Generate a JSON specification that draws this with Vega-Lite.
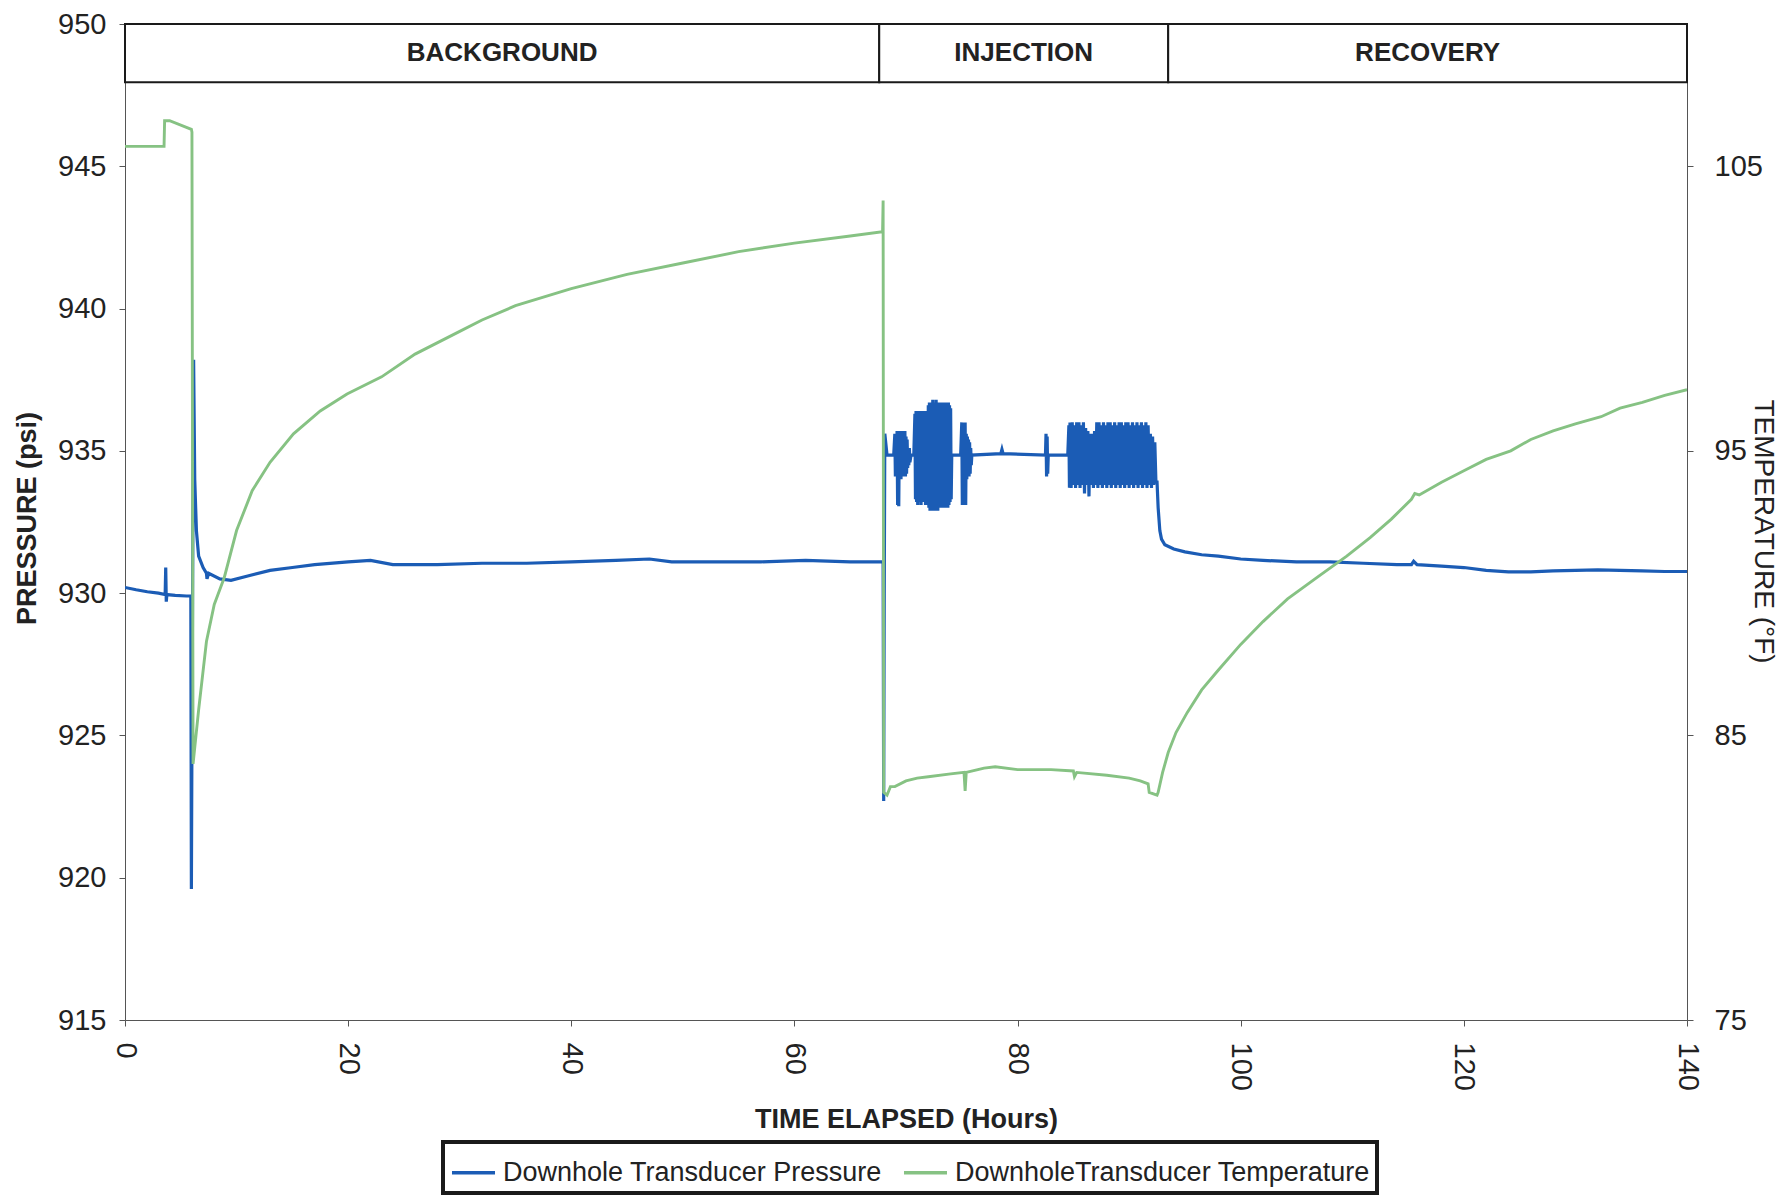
{
  "$schema": "https://vega.github.io/schema/vega-lite/v6.json",
  "width": 1562,
  "height": 996,
  "autosize": {"type": "none"},
  "padding": {"left": 125, "top": 24, "right": 95, "bottom": 183},
  "background": "white",
  "config": {
    "view": {"stroke": null},
    "font": "Liberation Sans",
    "axis": {
      "labelFont": "Liberation Sans",
      "titleFont": "Liberation Sans",
      "labelColor": "#222222",
      "titleColor": "#222222",
      "domainColor": "#555555",
      "tickColor": "#555555",
      "grid": false,
      "labelFontSize": 29,
      "titleFontSize": 27,
      "titleFontWeight": "bold"
    },
    "axisX": {"labelAngle": 90, "tickSize": 6, "labelPadding": 16, "titleY": 99, "titleBaseline": "middle"},
    "legend": {"strokeWidth": 4}
  },
  "datasets": {
    "phases": [
      {"start": 0, "end": 67.6, "label": "BACKGROUND"},
      {"start": 67.6, "end": 93.5, "label": "INJECTION"},
      {"start": 93.5, "end": 140, "label": "RECOVERY"}
    ],
    "pressure": [
      {"t": 0, "p": 930.2}, {"t": 1, "p": 930.12}, {"t": 2, "p": 930.05}, {"t": 3, "p": 930.0}, {"t": 3.6, "p": 929.95},
      {"t": 3.65, "p": 930.9}, {"t": 3.7, "p": 929.7}, {"t": 3.75, "p": 929.95}, {"t": 4.5, "p": 929.92}, {"t": 5.5, "p": 929.9},
      {"t": 5.9, "p": 929.9}, {"t": 5.95, "p": 919.6}, {"t": 6.0, "p": 925.0}, {"t": 6.15, "p": 938.2}, {"t": 6.25, "p": 934.0},
      {"t": 6.4, "p": 932.2}, {"t": 6.6, "p": 931.3}, {"t": 7.0, "p": 930.9}, {"t": 7.3, "p": 930.7}, {"t": 7.35, "p": 930.5},
      {"t": 7.5, "p": 930.7}, {"t": 8.5, "p": 930.5}, {"t": 9.5, "p": 930.45}, {"t": 11, "p": 930.6}, {"t": 13, "p": 930.8},
      {"t": 15, "p": 930.9}, {"t": 17, "p": 931.0}, {"t": 20, "p": 931.1}, {"t": 22, "p": 931.15}, {"t": 24, "p": 931.0},
      {"t": 28, "p": 931.0}, {"t": 32, "p": 931.05}, {"t": 36, "p": 931.05}, {"t": 40, "p": 931.1}, {"t": 44, "p": 931.15},
      {"t": 47, "p": 931.2}, {"t": 49, "p": 931.1}, {"t": 53, "p": 931.1}, {"t": 57, "p": 931.1}, {"t": 61, "p": 931.15},
      {"t": 65, "p": 931.1}, {"t": 67.9, "p": 931.1}, {"t": 67.95, "p": 931.1}, {"t": 68.0, "p": 922.7}, {"t": 68.05, "p": 930.0},
      {"t": 68.1, "p": 935.6}, {"t": 68.3, "p": 934.85}, {"t": 68.9, "p": 934.85},
      {"t": 69.0, "p": 935.6}, {"t": 69.05, "p": 934.1}, {"t": 69.1, "p": 935.6}, {"t": 69.15, "p": 934.1}, {"t": 69.2, "p": 935.7},
      {"t": 69.25, "p": 933.1}, {"t": 69.3, "p": 935.7}, {"t": 69.35, "p": 933.05}, {"t": 69.4, "p": 935.6}, {"t": 69.45, "p": 934.1},
      {"t": 69.5, "p": 935.7}, {"t": 69.55, "p": 934.0}, {"t": 69.6, "p": 935.6}, {"t": 69.65, "p": 934.1}, {"t": 69.7, "p": 935.7},
      {"t": 69.75, "p": 934.1}, {"t": 69.8, "p": 935.6}, {"t": 69.85, "p": 934.1}, {"t": 69.9, "p": 935.7}, {"t": 69.95, "p": 934.1},
      {"t": 70.0, "p": 935.5}, {"t": 70.05, "p": 934.2}, {"t": 70.1, "p": 935.4}, {"t": 70.15, "p": 934.4}, {"t": 70.2, "p": 935.1},
      {"t": 70.25, "p": 934.5}, {"t": 70.3, "p": 935.1}, {"t": 70.35, "p": 934.6}, {"t": 70.45, "p": 934.85}, {"t": 70.7, "p": 934.85},
      {"t": 70.8, "p": 936.3}, {"t": 70.85, "p": 933.3}, {"t": 70.9, "p": 936.4}, {"t": 70.95, "p": 933.2}, {"t": 71.0, "p": 936.4},
      {"t": 71.05, "p": 933.1}, {"t": 71.1, "p": 936.3}, {"t": 71.15, "p": 933.3}, {"t": 71.2, "p": 936.4}, {"t": 71.25, "p": 933.2},
      {"t": 71.3, "p": 936.3}, {"t": 71.35, "p": 933.1}, {"t": 71.4, "p": 936.4}, {"t": 71.45, "p": 933.3}, {"t": 71.5, "p": 936.4},
      {"t": 71.55, "p": 933.2}, {"t": 71.6, "p": 936.3}, {"t": 71.65, "p": 933.3}, {"t": 71.7, "p": 936.4}, {"t": 71.75, "p": 933.1},
      {"t": 71.8, "p": 936.3}, {"t": 71.85, "p": 933.2}, {"t": 71.9, "p": 936.4}, {"t": 71.95, "p": 933.1}, {"t": 72.0, "p": 936.6},
      {"t": 72.05, "p": 933.0}, {"t": 72.1, "p": 936.7}, {"t": 72.15, "p": 932.9}, {"t": 72.2, "p": 936.7}, {"t": 72.25, "p": 932.9},
      {"t": 72.3, "p": 936.7}, {"t": 72.35, "p": 933.0}, {"t": 72.4, "p": 936.8}, {"t": 72.45, "p": 932.9}, {"t": 72.5, "p": 936.7},
      {"t": 72.55, "p": 932.9}, {"t": 72.6, "p": 936.7}, {"t": 72.65, "p": 933.0}, {"t": 72.7, "p": 936.8}, {"t": 72.75, "p": 932.9},
      {"t": 72.8, "p": 936.7}, {"t": 72.85, "p": 932.9}, {"t": 72.9, "p": 936.7}, {"t": 72.95, "p": 933.0}, {"t": 73.0, "p": 936.7},
      {"t": 73.05, "p": 933.0}, {"t": 73.1, "p": 936.7}, {"t": 73.15, "p": 933.0}, {"t": 73.2, "p": 936.6}, {"t": 73.25, "p": 933.1},
      {"t": 73.3, "p": 936.7}, {"t": 73.35, "p": 933.0}, {"t": 73.4, "p": 936.7}, {"t": 73.45, "p": 933.1}, {"t": 73.5, "p": 936.7},
      {"t": 73.55, "p": 933.0}, {"t": 73.6, "p": 936.6}, {"t": 73.65, "p": 933.1}, {"t": 73.7, "p": 936.7}, {"t": 73.75, "p": 933.0},
      {"t": 73.8, "p": 936.7}, {"t": 73.85, "p": 933.1}, {"t": 73.9, "p": 936.6}, {"t": 73.95, "p": 933.2}, {"t": 74.0, "p": 936.5},
      {"t": 74.05, "p": 933.3}, {"t": 74.1, "p": 934.85}, {"t": 74.9, "p": 934.85},
      {"t": 75.0, "p": 936.0}, {"t": 75.05, "p": 933.1}, {"t": 75.1, "p": 936.0}, {"t": 75.15, "p": 933.1}, {"t": 75.2, "p": 935.9},
      {"t": 75.25, "p": 933.2}, {"t": 75.3, "p": 936.0}, {"t": 75.35, "p": 933.1}, {"t": 75.4, "p": 935.6}, {"t": 75.45, "p": 934.0},
      {"t": 75.5, "p": 935.5}, {"t": 75.55, "p": 934.1}, {"t": 75.6, "p": 935.4}, {"t": 75.65, "p": 934.1}, {"t": 75.7, "p": 935.3},
      {"t": 75.75, "p": 934.2}, {"t": 75.8, "p": 935.1}, {"t": 75.85, "p": 934.5}, {"t": 75.9, "p": 934.85},
      {"t": 78.5, "p": 934.9}, {"t": 78.6, "p": 935.05}, {"t": 78.7, "p": 934.9}, {"t": 82.5, "p": 934.85}, {"t": 82.55, "p": 935.6},
      {"t": 82.6, "p": 934.1}, {"t": 82.65, "p": 935.5}, {"t": 82.7, "p": 934.2}, {"t": 82.75, "p": 934.85}, {"t": 84.5, "p": 934.85},
      {"t": 84.6, "p": 935.9}, {"t": 84.65, "p": 933.7}, {"t": 84.7, "p": 936.0}, {"t": 84.8, "p": 933.7}, {"t": 84.9, "p": 936.0},
      {"t": 85.0, "p": 933.8}, {"t": 85.1, "p": 935.9}, {"t": 85.2, "p": 933.7}, {"t": 85.3, "p": 936.0}, {"t": 85.4, "p": 933.8},
      {"t": 85.5, "p": 936.0}, {"t": 85.6, "p": 933.7}, {"t": 85.7, "p": 935.9}, {"t": 85.8, "p": 933.8}, {"t": 85.9, "p": 936.0},
      {"t": 86.0, "p": 933.5}, {"t": 86.1, "p": 935.8}, {"t": 86.2, "p": 933.8}, {"t": 86.3, "p": 935.7}, {"t": 86.4, "p": 933.4},
      {"t": 86.5, "p": 935.6}, {"t": 86.6, "p": 933.8}, {"t": 86.7, "p": 935.6}, {"t": 86.8, "p": 933.7}, {"t": 86.9, "p": 935.7},
      {"t": 87.0, "p": 933.8}, {"t": 87.1, "p": 936.0}, {"t": 87.2, "p": 933.7}, {"t": 87.3, "p": 936.0}, {"t": 87.4, "p": 933.8},
      {"t": 87.5, "p": 935.9}, {"t": 87.6, "p": 933.7}, {"t": 87.7, "p": 936.0}, {"t": 87.8, "p": 933.8}, {"t": 87.9, "p": 935.9},
      {"t": 88.0, "p": 933.7}, {"t": 88.1, "p": 936.0}, {"t": 88.2, "p": 933.8}, {"t": 88.3, "p": 936.0}, {"t": 88.4, "p": 933.7},
      {"t": 88.5, "p": 935.9}, {"t": 88.6, "p": 933.8}, {"t": 88.7, "p": 936.0}, {"t": 88.8, "p": 933.7}, {"t": 88.9, "p": 935.9},
      {"t": 89.0, "p": 933.8}, {"t": 89.1, "p": 936.0}, {"t": 89.2, "p": 933.7}, {"t": 89.3, "p": 936.0}, {"t": 89.4, "p": 933.8},
      {"t": 89.5, "p": 935.9}, {"t": 89.6, "p": 933.7}, {"t": 89.7, "p": 936.0}, {"t": 89.8, "p": 933.8}, {"t": 89.9, "p": 936.0},
      {"t": 90.0, "p": 933.7}, {"t": 90.1, "p": 935.9}, {"t": 90.2, "p": 933.8}, {"t": 90.3, "p": 936.0}, {"t": 90.4, "p": 933.7},
      {"t": 90.5, "p": 935.9}, {"t": 90.6, "p": 933.8}, {"t": 90.7, "p": 936.0}, {"t": 90.8, "p": 933.7}, {"t": 90.9, "p": 935.9},
      {"t": 91.0, "p": 933.8}, {"t": 91.1, "p": 936.0}, {"t": 91.2, "p": 933.7}, {"t": 91.3, "p": 935.9}, {"t": 91.4, "p": 933.8},
      {"t": 91.5, "p": 936.0}, {"t": 91.6, "p": 933.7}, {"t": 91.7, "p": 935.9}, {"t": 91.8, "p": 933.8}, {"t": 91.9, "p": 935.6},
      {"t": 92.0, "p": 933.7}, {"t": 92.1, "p": 935.5}, {"t": 92.2, "p": 933.8}, {"t": 92.3, "p": 935.3}, {"t": 92.4, "p": 933.9},
      {"t": 92.5, "p": 933.9}, {"t": 92.6, "p": 933.0}, {"t": 92.75, "p": 932.2}, {"t": 92.9, "p": 931.9}, {"t": 93.2, "p": 931.7},
      {"t": 94, "p": 931.55}, {"t": 95, "p": 931.45}, {"t": 96.5, "p": 931.35}, {"t": 98, "p": 931.3}, {"t": 100, "p": 931.2},
      {"t": 102, "p": 931.15}, {"t": 105, "p": 931.1}, {"t": 108, "p": 931.1}, {"t": 111, "p": 931.05}, {"t": 114, "p": 931.0},
      {"t": 115.3, "p": 931.0}, {"t": 115.5, "p": 931.12}, {"t": 115.8, "p": 931.0}, {"t": 118, "p": 930.95}, {"t": 120, "p": 930.9},
      {"t": 122, "p": 930.8}, {"t": 124, "p": 930.75}, {"t": 126, "p": 930.75}, {"t": 128, "p": 930.78}, {"t": 130, "p": 930.8},
      {"t": 132, "p": 930.82}, {"t": 134, "p": 930.8}, {"t": 136, "p": 930.78}, {"t": 138, "p": 930.76}, {"t": 140, "p": 930.76}
    ],
    "temperature": [
      {"t": 0, "T": 105.7}, {"t": 3.5, "T": 105.7}, {"t": 3.55, "T": 106.6}, {"t": 4.0, "T": 106.6}, {"t": 5.95, "T": 106.3},
      {"t": 6.0, "T": 106.2}, {"t": 6.1, "T": 84.0}, {"t": 6.6, "T": 85.9}, {"t": 7.3, "T": 88.3}, {"t": 8.0, "T": 89.6},
      {"t": 8.9, "T": 90.55}, {"t": 10, "T": 92.2}, {"t": 11.4, "T": 93.6}, {"t": 13, "T": 94.6}, {"t": 15.1, "T": 95.6},
      {"t": 17.5, "T": 96.4}, {"t": 19.9, "T": 97.0}, {"t": 23, "T": 97.6}, {"t": 26, "T": 98.4}, {"t": 30, "T": 99.2},
      {"t": 32, "T": 99.6}, {"t": 35, "T": 100.1}, {"t": 40, "T": 100.7}, {"t": 45, "T": 101.2}, {"t": 50, "T": 101.6},
      {"t": 55, "T": 102.0}, {"t": 60, "T": 102.3}, {"t": 65, "T": 102.55}, {"t": 67.9, "T": 102.7}, {"t": 67.95, "T": 103.8},
      {"t": 68.0, "T": 83.0}, {"t": 68.3, "T": 82.9}, {"t": 68.6, "T": 83.2}, {"t": 69, "T": 83.2}, {"t": 70, "T": 83.4},
      {"t": 71, "T": 83.5}, {"t": 72, "T": 83.55}, {"t": 74, "T": 83.65}, {"t": 75.2, "T": 83.7}, {"t": 75.3, "T": 83.05},
      {"t": 75.4, "T": 83.7}, {"t": 77, "T": 83.85}, {"t": 78, "T": 83.9}, {"t": 80, "T": 83.8}, {"t": 83, "T": 83.8},
      {"t": 85, "T": 83.75}, {"t": 85.1, "T": 83.55}, {"t": 85.3, "T": 83.7}, {"t": 88, "T": 83.6}, {"t": 90, "T": 83.5},
      {"t": 91, "T": 83.4}, {"t": 91.7, "T": 83.3}, {"t": 91.8, "T": 83.0}, {"t": 92.5, "T": 82.9}, {"t": 92.6, "T": 83.0},
      {"t": 93.0, "T": 83.7}, {"t": 93.5, "T": 84.4}, {"t": 94.2, "T": 85.1}, {"t": 95.2, "T": 85.8}, {"t": 96.5, "T": 86.6},
      {"t": 98, "T": 87.3}, {"t": 100, "T": 88.2}, {"t": 102, "T": 89.0}, {"t": 104.2, "T": 89.8}, {"t": 107, "T": 90.6},
      {"t": 109.5, "T": 91.3}, {"t": 111.6, "T": 91.95}, {"t": 113.5, "T": 92.6}, {"t": 115.3, "T": 93.3}, {"t": 115.6, "T": 93.5},
      {"t": 116, "T": 93.45}, {"t": 118, "T": 93.9}, {"t": 120, "T": 94.3}, {"t": 122, "T": 94.7}, {"t": 124.2, "T": 95.0},
      {"t": 126, "T": 95.4}, {"t": 128, "T": 95.7}, {"t": 130, "T": 95.95}, {"t": 132.3, "T": 96.2}, {"t": 134, "T": 96.5},
      {"t": 136, "T": 96.7}, {"t": 138, "T": 96.95}, {"t": 140, "T": 97.15}
    ]
  },
  "layer": [
    {
      "layer": [
        {
          "data": {"name": "phases"},
          "mark": {"type": "rect", "fill": "white", "stroke": "#1a1a1a", "strokeWidth": 2},
          "encoding": {
            "x": {"field": "start", "type": "quantitative", "title": "TIME ELAPSED (Hours)", "scale": {"domain": [0, 140], "nice": false}, "axis": {"values": [0, 20, 40, 60, 80, 100, 120, 140]}},
            "x2": {"field": "end"},
            "y": {"datum": 950, "type": "quantitative", "title": "PRESSURE (psi)", "scale": {"domain": [915, 950], "nice": false},
              "axis": {"values": [915, 920, 925, 930, 935, 940, 945, 950], "tickSize": 6, "labelPadding": 13, "titleX": -98, "titleY": 494, "titleAngle": 270, "titleBaseline": "middle"}},
            "y2": {"datum": 947.95}
          }
        },
        {
          "data": {"name": "phases"},
          "transform": [{"calculate": "(datum.start + datum.end) / 2", "as": "mid"}],
          "mark": {"type": "text", "font": "Liberation Sans", "fontSize": 26, "fontWeight": "bold", "color": "#222222", "baseline": "middle", "align": "center"},
          "encoding": {
            "x": {"field": "mid", "type": "quantitative", "title": "TIME ELAPSED (Hours)", "scale": {"domain": [0, 140], "nice": false}, "axis": {"values": [0, 20, 40, 60, 80, 100, 120, 140]}},
            "y": {"datum": 948.97, "type": "quantitative", "title": "PRESSURE (psi)", "scale": {"domain": [915, 950], "nice": false},
              "axis": {"values": [915, 920, 925, 930, 935, 940, 945, 950], "tickSize": 6, "labelPadding": 13, "titleX": -98, "titleY": 494, "titleAngle": 270, "titleBaseline": "middle"}},
            "text": {"field": "label"}
          }
        },
        {
          "data": {"name": "pressure"},
          "mark": {"type": "line", "strokeWidth": 3.2, "clip": true},
          "encoding": {
            "x": {"field": "t", "type": "quantitative", "title": "TIME ELAPSED (Hours)", "scale": {"domain": [0, 140], "nice": false}, "axis": {"values": [0, 20, 40, 60, 80, 100, 120, 140]}},
            "y": {"field": "p", "type": "quantitative", "title": "PRESSURE (psi)", "scale": {"domain": [915, 950], "nice": false},
              "axis": {"values": [915, 920, 925, 930, 935, 940, 945, 950], "tickSize": 6, "labelPadding": 13, "titleX": -98, "titleY": 494, "titleAngle": 270, "titleBaseline": "middle"}},
            "color": {"datum": "Downhole Transducer Pressure", "type": "nominal",
              "scale": {"domain": ["Downhole Transducer Pressure", "DownholeTransducer Temperature"], "range": ["#1b5cb5", "#86c283"]},
              "legend": {"orient": "none", "legendX": 318, "legendY": 1118, "direction": "horizontal", "title": null,
                "labelFontSize": 27, "labelFont": "Liberation Sans", "labelColor": "#222222", "labelLimit": 0,
                "symbolType": "stroke", "symbolStrokeWidth": 3.5, "symbolSize": 1850, "strokeColor": "#1a1a1a",
                "padding": 7, "columnPadding": 14, "labelOffset": 6}}
          }
        }
      ]
    },
    {
      "data": {"name": "temperature"},
      "mark": {"type": "line", "strokeWidth": 2.9, "clip": true},
      "encoding": {
        "x": {"field": "t", "type": "quantitative", "title": "TIME ELAPSED (Hours)", "scale": {"domain": [0, 140], "nice": false}, "axis": {"values": [0, 20, 40, 60, 80, 100, 120, 140]}},
        "y": {"field": "T", "type": "quantitative", "title": "TEMPERATURE (°F)", "scale": {"domain": [75, 110], "nice": false},
          "axis": {"orient": "right", "values": [75, 85, 95, 105], "tickSize": 6, "labelPadding": 21, "titleX": 75, "titleY": 507, "titleAngle": 90, "titleBaseline": "middle", "titleFontWeight": "normal", "titleFontSize": 28}},
        "color": {"datum": "DownholeTransducer Temperature", "type": "nominal"}
      }
    }
  ],
  "resolve": {"scale": {"y": "independent"}}
}
